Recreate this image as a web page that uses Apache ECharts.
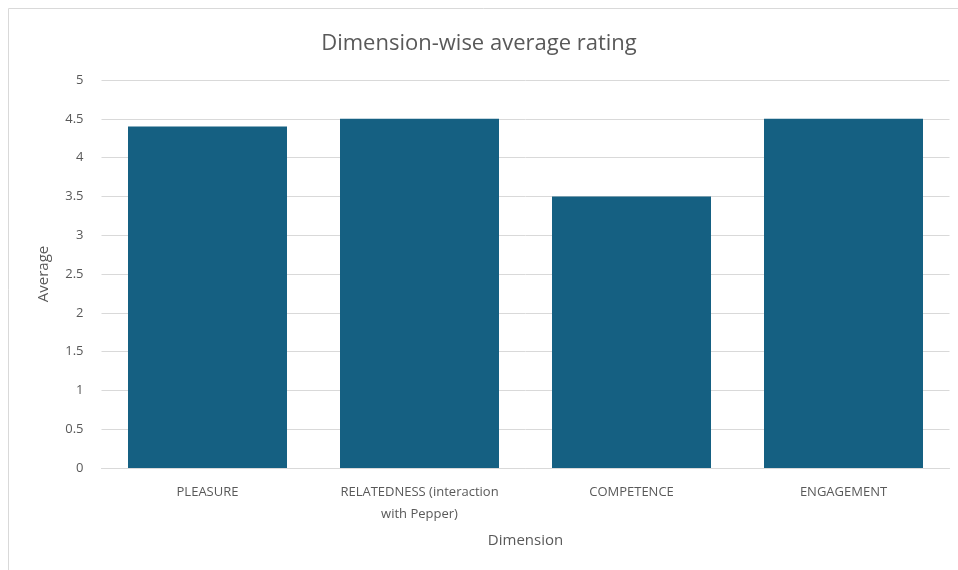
<!DOCTYPE html>
<html>
<head>
<meta charset="utf-8">
<script src="https://cdn.jsdelivr.net/npm/echarts@6/dist/echarts.min.js"></script>
<style>
  html, body { margin: 0; padding: 0; background: #fff; }
  #chart { width: 958px; height: 570px; }
</style>
</head>
<body>
<div id="chart"></div>
<script>
const categories = ['PLEASURE', 'RELATEDNESS (interaction\nwith Pepper)', 'COMPETENCE', 'ENGAGEMENT'];
const averages = [4.4, 4.5, 3.5, 4.5];

const chart = echarts.init(document.getElementById('chart'));
const textColor = '#595959';
const font = '"Open Sans", "Noto Sans", sans-serif';

chart.setOption({
    animation: false,
    graphic: [{
        type: 'rect',
        shape: { x: 8.5, y: 8.5, width: 960, height: 580 },
        style: { fill: 'none', stroke: '#d9d9d9', lineWidth: 1 },
        silent: true
    }],
    title: {
        text: 'Dimension-wise average rating',
        left: 'center',
        top: 28,
        textStyle: { color: textColor, fontSize: 22, fontWeight: 'normal', fontFamily: font }
    },
    grid: { left: 101.5, right: 8.5, top: 80, bottom: 102 },
    xAxis: {
        type: 'category',
        data: categories,
        name: 'Dimension',
        nameLocation: 'middle',
        nameGap: 65,
        nameTextStyle: { color: textColor, fontSize: 15, fontFamily: font },
        axisLine: { lineStyle: { color: '#d9d9d9' } },
        axisTick: { show: false },
        axisLabel: { color: textColor, fontSize: 13, fontFamily: font, margin: 13, lineHeight: 22, interval: 0 }
    },
    yAxis: {
        type: 'value',
        min: 0,
        max: 5,
        interval: 0.5,
        name: 'Average',
        nameLocation: 'middle',
        nameGap: 50,
        nameTextStyle: { color: textColor, fontSize: 15, fontFamily: font },
        axisLine: { show: false },
        axisTick: { show: false },
        axisLabel: { color: textColor, fontSize: 13, fontFamily: font, margin: 18 },
        splitLine: { lineStyle: { color: '#d9d9d9' } }
    },
    series: [{
        type: 'bar',
        data: averages,
        barCategoryGap: '25%',
        itemStyle: { color: '#156082' }
    }]
});
</script>
</body>
</html>
